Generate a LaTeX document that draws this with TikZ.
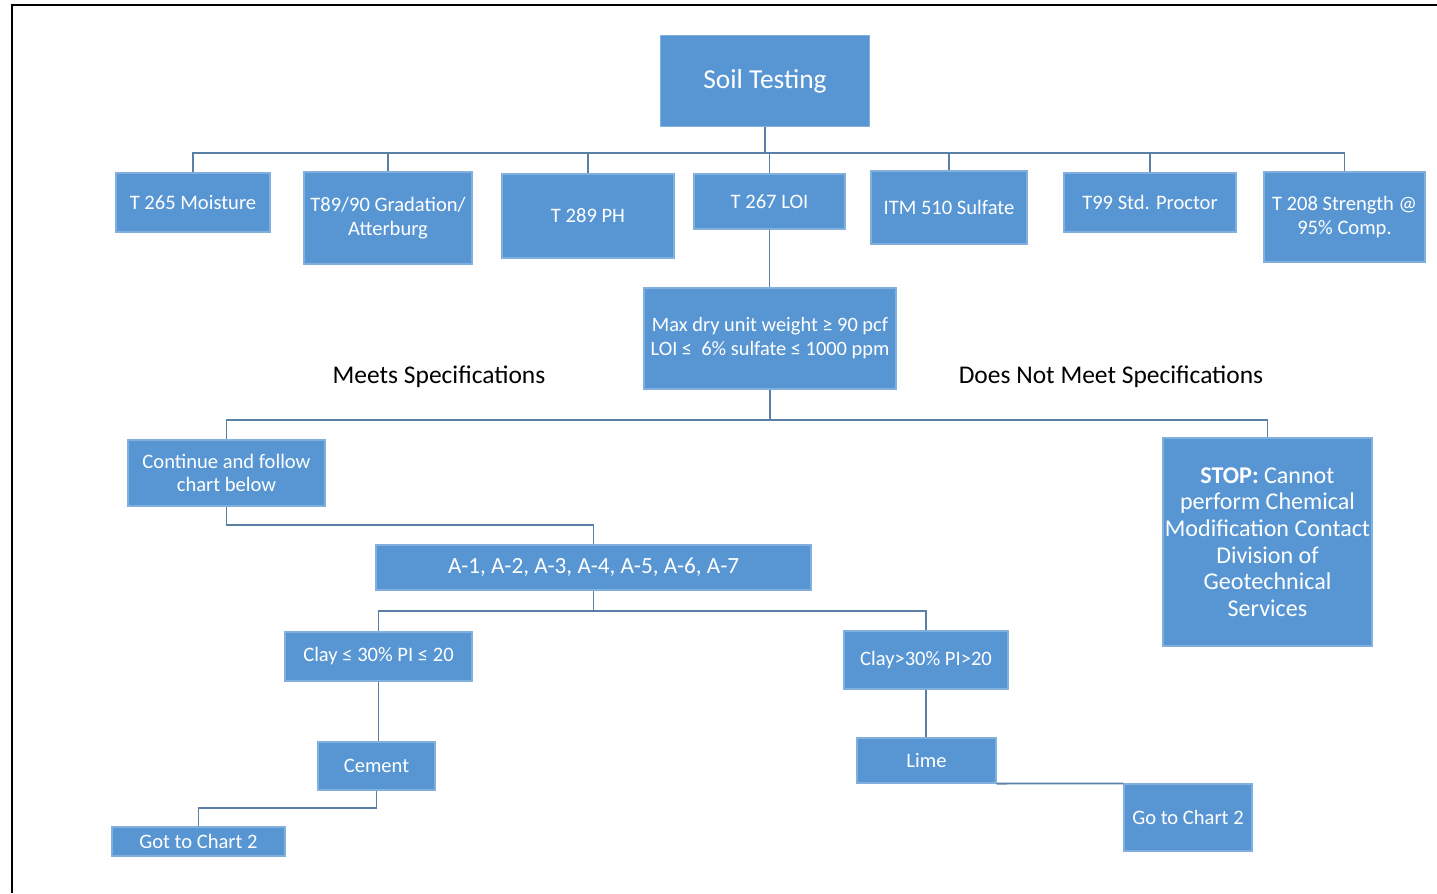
\documentclass[tikz,border=0pt]{standalone}
\usepackage{fontspec}
\setmainfont{Carlito}
\usepackage{xcolor}
\usepackage{tikz}
\definecolor{boxblue}{HTML}{5896D3}
\definecolor{linkblue}{HTML}{5A80A8}

\begin{document}
\begin{tikzpicture}[
		box/.style={fill=boxblue, draw=boxblue!75!white, line width=0.6pt, text=white, align=center, inner sep=2pt, font=\fontsize{11.7}{13.4}\selectfont},
		link/.style={draw=linkblue, line width=1.1pt},
		spec/.style={text=black, font=\fontsize{14.5}{16}\selectfont}
	]
				\useasboundingbox (0, 0) rectangle (28.74, -17.86);
				\draw[line width=1.2pt] (0.24, -17.86) -- (0.24, -0.1) -- (28.74, -0.1);
				
				\coordinate (BusTests) at (0, -3.06);
				\coordinate (BusSpec) at (0, -8.4);
				\coordinate (BusChart) at (0, -10.5);
				\coordinate (BusClay) at (0, -12.22);
				\coordinate (BusCement) at (0, -16.16);
				
				\node[box, minimum width=4.18cm, minimum height=1.82cm, font=\fontsize{15.6}{17}\selectfont] (Soil) at (15.3, -1.62) {Soil Testing};
				
				\node[box, minimum width=3.08cm, minimum height=1.18cm] (Moisture) at (3.86, -4.05) {T 265 Moisture};
				\node[box, minimum width=3.36cm, minimum height=1.84cm] (Gradation) at (7.76, -4.36) {T89/90 Gradation/\\Atterburg};
				\node[box, minimum width=3.44cm, minimum height=1.68cm] (PH) at (11.76, -4.32) {T 289 PH};
				\node[box, minimum width=3.02cm, minimum height=1.1cm] (LOI) at (15.39, -4.03) {T 267 LOI};
				\node[box, minimum width=3.12cm, minimum height=1.46cm] (Sulfate) at (18.98, -4.15) {ITM 510 Sulfate};
				\node[box, minimum width=3.44cm, minimum height=1.18cm] (Proctor) at (23, -4.05) {T99 Std. Proctor};
				\node[box, minimum width=3.22cm, minimum height=1.8cm] (Strength) at (26.89, -4.34) {T 208 Strength @\\95\% Comp.};
				
				\draw[link] (Soil.south) -- (Soil.south |- BusTests);
				\foreach \t in {Moisture, Gradation, PH, LOI, Sulfate, Proctor, Strength}
					\draw[link] (Soil.south |- BusTests) -| (\t.north);
				
				\node[box, minimum width=5.04cm, minimum height=2.02cm, font=\fontsize{11.6}{13.6}\selectfont] (Limits) at (15.4, -6.77) {Max dry unit weight ≥ 90 pcf\\LOI ≤\ \ 6\% sulfate ≤ 1000 ppm};
				\draw[link] (LOI.south) -- (LOI.south |- Limits.north);
				
				\node[spec] (Meets) at (8.78, -7.54) {Meets Specifications};
				\node[spec] (NotMeets) at (22.22, -7.54) {Does Not Meet Specifications};
				
				\node[box, minimum width=3.94cm, minimum height=1.32cm] (Continue) at (4.53, -9.46) {Continue and follow\\chart below};
				\node[box, inner sep=0pt, minimum width=4.18cm, minimum height=4.16cm, font=\fontsize{13.7}{15.2}\selectfont] (Stop) at (25.35, -10.84) {\textbf{STOP:} Cannot\\perform Chemical\\Modification Contact\\Division of\\Geotechnical\\Services};
				\draw[link] (Limits.south) -- (Limits.south |- BusSpec);
				\draw[link] (Limits.south |- BusSpec) -| (Continue.north);
				\draw[link] (Limits.south |- BusSpec) -| (Stop.north);
				
				\node[box, minimum width=8.7cm, minimum height=0.9cm, font=\fontsize{13.2}{15}\selectfont] (Classes) at (11.87, -11.35) {A-1, A-2, A-3, A-4, A-5, A-6, A-7};
				\draw[link] (Continue.south) -- (Continue.south |- BusChart) -| (Classes.north);
				
				\node[box, minimum width=3.74cm, minimum height=0.98cm] (ClayLow) at (7.57, -13.13) {Clay ≤ 30\% PI ≤ 20};
				\node[box, minimum width=3.28cm, minimum height=1.16cm] (ClayHigh) at (18.52, -13.2) {Clay>30\% PI>20};
				\draw[link] (Classes.south) -- (Classes.south |- BusClay);
				\draw[link] (Classes.south |- BusClay) -| (ClayLow.north);
				\draw[link] (Classes.south |- BusClay) -| (ClayHigh.north);
				
				\node[box, minimum width=2.34cm, minimum height=0.96cm] (Cement) at (7.53, -15.32) {Cement};
				\node[box, minimum width=3.46cm, minimum height=0.58cm] (GotChart) at (3.97, -16.83) {Got to Chart 2};
				\draw[link] (ClayLow.south) -- (ClayLow.south |- Cement.north);
				\draw[link] (Cement.south) -- (Cement.south |- BusCement) -| (GotChart.north);
				
				\node[box, minimum width=2.78cm, minimum height=0.9cm] (Lime) at (18.53, -15.21) {Lime};
				\node[box, minimum width=2.56cm, minimum height=1.34cm] (GoChart) at (23.76, -16.35) {Go to Chart 2};
				\draw[link] (ClayHigh.south) -- (ClayHigh.south |- Lime.north);
				\draw[link] (Lime.south east) -- (GoChart.north west);
\end{tikzpicture}
\end{document}
